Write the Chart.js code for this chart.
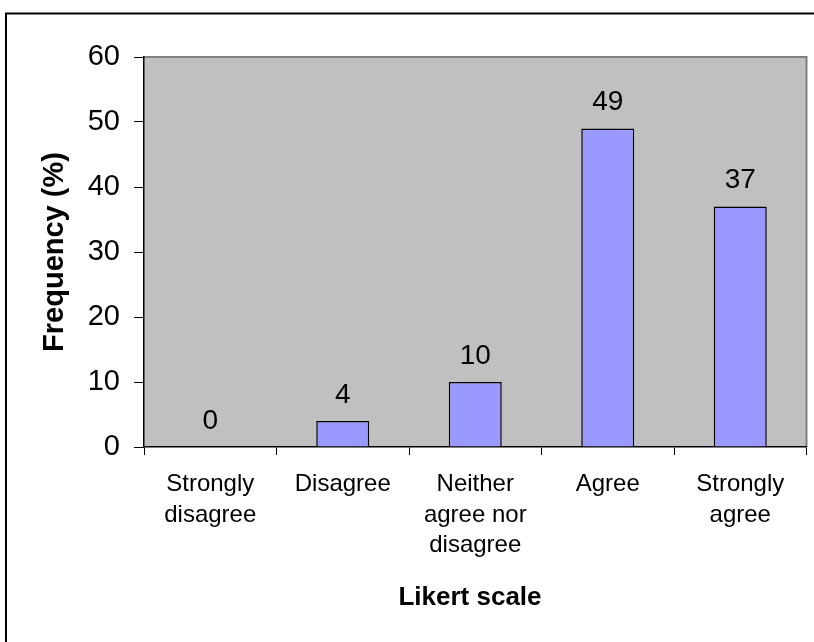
<!DOCTYPE html>
<html><head><meta charset="utf-8">
<script src="https://cdn.jsdelivr.net/npm/chart.js@4/dist/chart.umd.min.js"></script>
<style>html,body{margin:0;padding:0;background:#fff}#wrap{width:814px;height:642px}</style>
</head><body><div id="wrap"><canvas id="c" width="814" height="642"></canvas></div>
<script>
const categories = [["Strongly","disagree"], "Disagree", ["Neither","agree nor","disagree"], "Agree", ["Strongly","agree"]];
const frequency = [0, 4, 10, 49, 37];
const yMin = 0, yMax = 60, yStep = 10;
const xTitle = "Likert scale";
const yTitle = "Frequency (%)";

const FONT = "'Liberation Sans', Arial, sans-serif";

const decor = {
  id: 'decor',
  beforeDraw(chart) {
    const ctx = chart.ctx, a = chart.chartArea;
    ctx.save();
    ctx.fillStyle = '#fff';
    ctx.fillRect(0, 0, chart.width, chart.height);
    ctx.strokeStyle = '#000';
    ctx.lineWidth = 2;
    ctx.strokeRect(6, 13.5, 1000, 1000);
    ctx.fillStyle = '#C0C0C0';
    ctx.fillRect(a.left, a.top, a.right - a.left, a.bottom - a.top);
    ctx.strokeStyle = '#808080';
    ctx.lineWidth = 2;
    ctx.beginPath();
    ctx.moveTo(a.left, a.top);
    ctx.lineTo(a.right, a.top);
    ctx.lineTo(a.right, a.bottom);
    ctx.stroke();
    ctx.restore();
  },
  afterDatasetsDraw(chart) {
    const ctx = chart.ctx;
    const meta = chart.getDatasetMeta(0);
    const ys = chart.scales.y;
    ctx.save();
    ctx.fillStyle = '#000';
    ctx.font = '28px ' + FONT;
    ctx.textAlign = 'center';
    ctx.textBaseline = 'alphabetic';
    meta.data.forEach((el, i) => {
      const v = frequency[i];
      ctx.fillText(String(v), el.x, ys.getPixelForValue(v) - 18.5);
    });
    ctx.restore();
  },
  afterDraw(chart) {
    const ctx = chart.ctx, a = chart.chartArea;
    ctx.save();
    ctx.fillStyle = '#000';
    ctx.font = 'bold 26px ' + FONT;
    ctx.textAlign = 'center';
    ctx.textBaseline = 'alphabetic';
    ctx.fillText(xTitle, 470, 605);
    ctx.font = 'bold 29px ' + FONT;
    ctx.translate(63, (a.top + a.bottom) / 2);
    ctx.rotate(-Math.PI / 2);
    ctx.fillText(yTitle, 0, 0);
    ctx.restore();
  }
};

new Chart(document.getElementById('c'), {
  type: 'bar',
  data: {
    labels: categories,
    datasets: [{
      data: frequency,
      backgroundColor: '#9999FF',
      borderColor: '#000',
      borderWidth: 1.5,
      barPercentage: 0.4,
      categoryPercentage: 1
    }]
  },
  options: {
    responsive: false,
    animation: false,
    devicePixelRatio: 1,
    layout: { padding: { top: 57, right: 7.5, left: 0, bottom: 0 } },
    plugins: { legend: { display: false }, tooltip: { enabled: false } },
    scales: {
      y: {
        min: yMin, max: yMax,
        ticks: { stepSize: yStep, color: '#000', font: { family: FONT, size: 29 }, padding: 14 },
        grid: { drawOnChartArea: false, color: '#000', tickLength: 10, lineWidth: 1 },
        border: { color: '#000', width: 1.5 },
        afterFit(s) { s.width = 144; }
      },
      x: {
        offset: true,
        grid: { offset: true, drawOnChartArea: false, color: '#000', tickLength: 8, lineWidth: 1 },
        border: { color: '#000', width: 1.5 },
        ticks: { color: '#000', font: { family: FONT, size: 24, lineHeight: 1.28 }, maxRotation: 0, autoSkip: false, padding: 14 },
        afterFit(s) { s.height = 195; }
      }
    }
  },
  plugins: [decor]
});
</script>
</body></html>
